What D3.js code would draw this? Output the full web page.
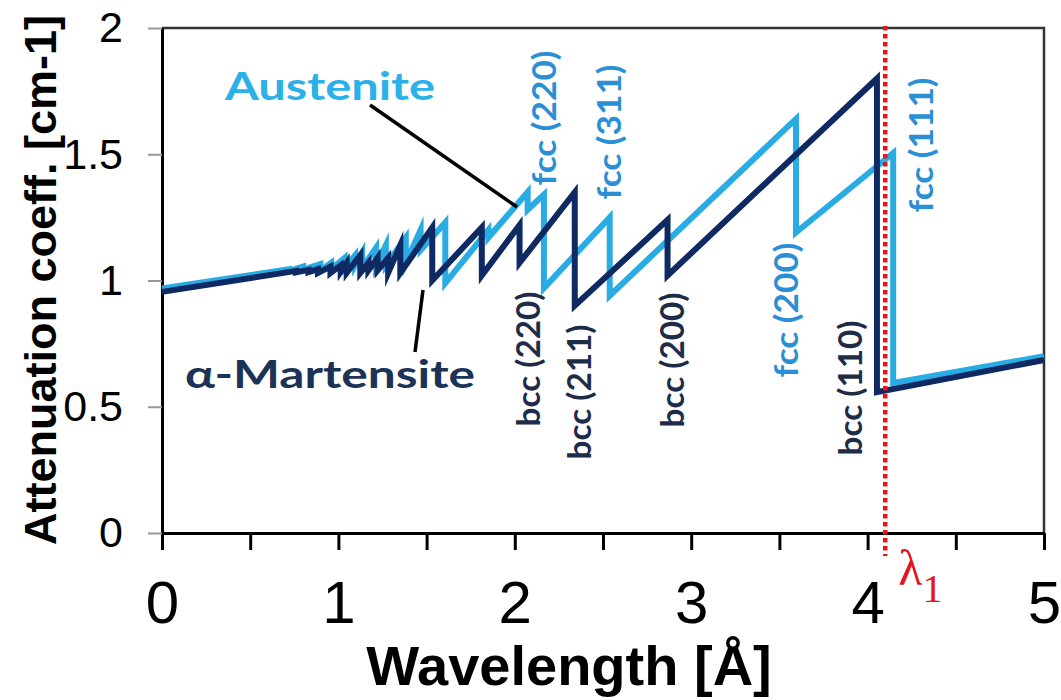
<!DOCTYPE html>
<html>
<meta charset="UTF-8">
<style>
/*	page and text styles */
body { margin: 0; background: #fff; }
svg { display: block; }

.tick-label { font-family: "Liberation Sans", Arial, sans-serif; fill: #000; }
.axis-title { font-family: "Liberation Sans", Arial, sans-serif; font-weight: bold; fill: #000; }
.note { font-family: Lato, "Open Sans", sans-serif; font-weight: bold; }

.series { fill: none; stroke-width: 6px; stroke-linejoin: miter; stroke-miterlimit: 6; }
</style>
<svg width="1061" height="700"></svg>
<script src="https://d3js.org/d3.v7.min.js"></script>
<script>
//	wavelength [A], attenuation coeff. [cm-1] -- vertices of the Bragg edge curves
var austenite = [
	[0, 0.968], [0.72, 1.045], [0.72, 1.038], [0.80, 1.055], [0.80, 1.043],
	[0.8975, 1.065], [0.8975, 1.04], [0.959, 1.07], [0.959, 1.045], [1.036, 1.09],
	[1.036, 1.05], [1.095, 1.10], [1.095, 1.06], [1.135, 1.11], [1.135, 1.05],
	[1.214, 1.13], [1.214, 1.06], [1.269, 1.14], [1.269, 1.06], [1.382, 1.17],
	[1.382, 1.07], [1.466, 1.20], [1.466, 1.12], [1.606, 1.23], [1.606, 0.99],
	[1.85, 1.20], [1.85, 1.17], [2.073, 1.35], [2.073, 1.28], [2.165, 1.34],
	[2.165, 0.97], [2.538, 1.25], [2.538, 0.94], [3.594, 1.64], [3.594, 1.19],
	[4.145, 1.505], [4.145, 0.594], [5.0, 0.70]
];

var martensite = [
	[0, 0.955], [0.76, 1.038], [0.76, 1.032], [0.83, 1.042], [0.83, 1.033],
	[0.884, 1.045], [0.884, 1.03], [0.955, 1.055], [0.955, 1.03], [1.013, 1.06],
	[1.013, 1.035], [1.047, 1.07], [1.047, 1.03], [1.124, 1.10], [1.124, 1.03],
	[1.170, 1.07], [1.170, 1.04], [1.222, 1.09], [1.222, 1.04], [1.282, 1.09],
	[1.282, 1.03], [1.351, 1.14], [1.351, 1.03], [1.532, 1.21], [1.532, 1.00],
	[1.813, 1.21], [1.813, 1.02], [2.027, 1.22], [2.027, 1.07], [2.340, 1.35],
	[2.340, 0.90], [2.866, 1.24], [2.866, 1.02], [4.053, 1.80], [4.053, 0.558],
	[5.0, 0.685]
];

//	axis ticks
var xTicks = [0, 0.5, 1, 1.5, 2, 2.5, 3, 3.5, 4, 4.5, 5];
var yTicks = [0, 0.5, 1, 1.5, 2];

//	cut-off wavelength
var lambda1 = 4.10;

//	reflection labels
var fccLabels = ["fcc (220)", "fcc (311)", "fcc (200)", "fcc (111)"];
var bccLabels = ["bcc (220)", "bcc (211)", "bcc (200)", "bcc (110)"];

//	svg and scales
var svg = d3.select("svg");

var x = d3.scaleLinear().domain([0, 5]).range([162, 1044]),
	y = d3.scaleLinear().domain([0, 2]).range([533, 28]);

//	frame (top and right)
svg.append("path")
	.attr("d", "M" + x(0) + "," + y(2) + "H" + x(5) + "V" + y(0))
	.attr("fill", "none")
	.attr("stroke", "#333")
	.attr("stroke-width", 2.5);

//	x axis
var xAxis = svg.append("g")
	.attr("transform", "translate(0," + y(0) + ")")
	.call(d3.axisBottom(x)
		.tickValues(xTicks)
		.tickSize(17)
		.tickSizeOuter(0)
		.tickPadding(30)
		.tickFormat(function(d) { return d % 1 === 0 ? d : ""; }));
xAxis.select(".domain").attr("stroke", "#000").attr("stroke-width", 3);
xAxis.selectAll(".tick line").attr("stroke", "#000").attr("stroke-width", 3);
xAxis.selectAll(".tick text")
	.attr("class", "tick-label")
	.attr("font-size", 60);

//	y axis
var yAxis = svg.append("g")
	.attr("transform", "translate(" + x(0) + ",0)")
	.call(d3.axisLeft(y)
		.tickValues(yTicks)
		.tickSize(14)
		.tickSizeOuter(0)
		.tickPadding(25)
		.tickFormat(function(d) { return String(d); }));
yAxis.select(".domain").attr("stroke", "#000").attr("stroke-width", 3);
yAxis.selectAll(".tick line").attr("stroke", "#999").attr("stroke-width", 2);
yAxis.selectAll(".tick text")
	.attr("class", "tick-label")
	.attr("font-size", 43);

//	axis titles
svg.append("text")
	.attr("class", "axis-title")
	.attr("x", 569)
	.attr("y", 685)
	.attr("text-anchor", "middle")
	.attr("font-size", 56)
	.text("Wavelength [Å]");

svg.append("text")
	.attr("class", "axis-title")
	.attr("transform", "translate(56,280) rotate(-90)")
	.attr("text-anchor", "middle")
	.attr("font-size", 45)
	.text("Attenuation coeff. [cm-1]");

//	curves
var line = d3.line()
	.x(function(d) { return x(d[0]); })
	.y(function(d) { return y(d[1]); });

svg.append("path")
	.datum(austenite)
	.attr("class", "series")
	.attr("stroke", "#29ace4")
	.attr("d", line);

svg.append("path")
	.datum(martensite)
	.attr("class", "series")
	.attr("stroke", "#0f2a62")
	.attr("d", line);

//	lambda_1 marker
svg.append("line")
	.attr("x1", x(lambda1)).attr("x2", x(lambda1))
	.attr("y1", y(2) - 2).attr("y2", 556)
	.attr("stroke", "#e8141c")
	.attr("stroke-width", 4.5)
	.attr("stroke-dasharray", "4.5,3.5");

var lam = svg.append("text")
	.attr("x", x(lambda1) + 13)
	.attr("y", 585)
	.attr("fill", "#e8141c")
	.attr("font-family", "'Liberation Serif', 'DejaVu Serif', serif")
	.attr("font-size", 50);
lam.append("tspan").text("λ");
lam.append("tspan")
	.attr("font-size", 40)
	.attr("dy", 17)
	.text("1");

//	phase names with leader lines
svg.append("line")
	.attr("x1", 370).attr("y1", 105).attr("x2", 517).attr("y2", 207)
	.attr("stroke", "#000").attr("stroke-width", 3.5);
svg.append("line")
	.attr("x1", 423).attr("y1", 290).attr("x2", 415).attr("y2", 352)
	.attr("stroke", "#000").attr("stroke-width", 3.5);

svg.append("text")
	.attr("class", "note")
	.attr("x", 225).attr("y", 100)
	.attr("font-size", 39)
	.attr("fill", "#2bb0e8")
	.attr("textLength", 210)
	.attr("lengthAdjust", "spacingAndGlyphs")
	.text("Austenite");

svg.append("text")
	.attr("class", "note")
	.attr("x", 185).attr("y", 388)
	.attr("font-size", 39)
	.attr("fill", "#1c3358")
	.attr("textLength", 290)
	.attr("lengthAdjust", "spacingAndGlyphs")
	.text("α-Martensite");

//	rotated reflection labels: [baseline x, centre y]
var fccPos = [[556, 118], [621, 132], [798, 310], [933, 145]],
	bccPos = [[540, 359], [591, 392], [684, 360], [862, 388]];

function rotatedLabels(texts, pos, color) {
	svg.selectAll(null)
		.data(texts)
		.enter().append("text")
		.attr("class", "note")
		.attr("transform", function(d, i) {
			return "translate(" + pos[i][0] + "," + pos[i][1] + ") rotate(-90)";
		})
		.attr("text-anchor", "middle")
		.attr("font-size", 32)
		.attr("fill", color)
		.attr("textLength", 135)
		.attr("lengthAdjust", "spacingAndGlyphs")
		.text(function(d) { return d; });
}

rotatedLabels(fccLabels, fccPos, "#2a8fd4");
rotatedLabels(bccLabels, bccPos, "#1f2c48");
</script>
